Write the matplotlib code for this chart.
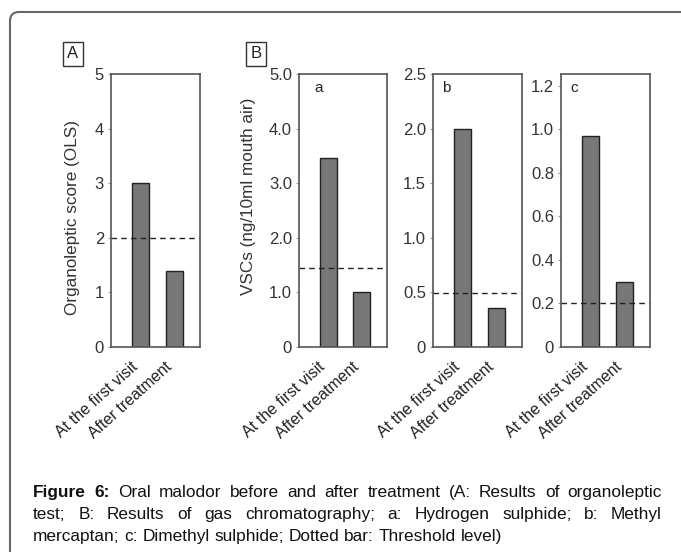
import matplotlib
matplotlib.use('Agg')

import matplotlib.pyplot as plt
from matplotlib.patches import FancyBboxPatch

plt.rcParams['font.family'] = ['Liberation Sans', 'DejaVu Sans']

groups = ["At the first visit", "After treatment"]

# panel A: organoleptic score
ols_values = [3.0, 1.4]
ols_threshold = 2.0

# panel B: gas chromatography, VSCs (ng/10ml mouth air)
sub_names = ["a", "b", "c"]
vsc_values = [[3.47, 1.0], [2.0, 0.36], [0.97, 0.30]]
vsc_thresholds = [1.45, 0.49, 0.20]
vsc_ylims = [5.0, 2.5, 1.255]
vsc_ticks = [[0, 1, 2, 3, 4, 5], [0, 0.5, 1.0, 1.5, 2.0, 2.5], [0, 0.2, 0.4, 0.6, 0.8, 1.0, 1.2]]
vsc_ticklabels = [["0", "1.0", "2.0", "3.0", "4.0", "5.0"],
                  ["0", "0.5", "1.0", "1.5", "2.0", "2.5"],
                  ["0", "0.2", "0.4", "0.6", "0.8", "1.0", "1.2"]]

caption_lines = [
    "Oral malodor before and after treatment (A: Results of organoleptic",
    "test; B: Results of gas chromatography; a: Hydrogen sulphide; b: Methyl",
    "mercaptan; c: Dimethyl sulphide; Dotted bar: Threshold level)",
]

W, H = 681, 552
fig = plt.figure(figsize=(W / 100, H / 100), dpi=100)


def px_rect(x0, x1, y0, y1):
    return [x0 / W, 1 - y1 / H, (x1 - x0) / W, (y1 - y0) / H]


def style_bar_axes(ax, values, threshold, ymax):
    xs = range(len(values))
    ax.bar(xs, values, width=0.5, color='#777777', edgecolor='#222222', linewidth=1.0)
    ax.axhline(threshold, color='#222222', linewidth=1.0, linestyle=(0, (4, 3)))
    ax.set_xlim(-0.87, 1.75)
    ax.set_ylim(0, ymax)
    ax.set_xticks(list(xs))
    ax.set_xticklabels(groups, rotation=42, ha='right', va='top', fontsize=11.5, color='#222222')
    ax.tick_params(axis='x', length=0, pad=9)
    ax.tick_params(axis='y', length=2, color='#999999', labelsize=12, labelcolor='#333333', pad=3)
    for sp in ax.spines.values():
        sp.set_color('#555555')
        sp.set_linewidth(1.2)


axA = fig.add_axes(px_rect(111, 200, 74, 347))
style_bar_axes(axA, ols_values, ols_threshold, 5)
axA.set_yticks(range(6))

positions = [(299, 387), (433, 522), (561, 650)]
for i, (x0, x1) in enumerate(positions):
    ax = fig.add_axes(px_rect(x0, x1, 74, 347))
    style_bar_axes(ax, vsc_values[i], vsc_thresholds[i], vsc_ylims[i])
    ax.set_yticks(vsc_ticks[i])
    ax.set_yticklabels(vsc_ticklabels[i])
    ax.text(0.1 if i else 0.17, 0.95, sub_names[i], transform=ax.transAxes,
            ha='left', va='center', fontsize=11, color='#222222')

# axis titles
fig.text(72 / W, 1 - 217 / H, "Organoleptic score (OLS)", rotation=90,
         ha='center', va='center', fontsize=12.3, color='#333333')
fig.text(248 / W, 1 - 196 / H, "VSCs (ng/10ml mouth air)", rotation=90,
         ha='center', va='center', fontsize=12.3, color='#333333')

# panel letters
for lbl, cx in [("A", 73), ("B", 256)]:
    fig.text(cx / W, 1 - 54 / H, lbl, ha='center', va='center', fontsize=12, color='#222222',
             bbox=dict(boxstyle='square,pad=0.25', fc='white', ec='#333333', lw=1.0))

# outer rounded frame (only top and left edges fall inside the image)
frame = FancyBboxPatch((10, -60), 720, H - 12 + 60, boxstyle='round,pad=0,rounding_size=9',
                       transform=None, fill=False, ec='#666666', lw=1.5, clip_on=False)
fig.add_artist(frame)

# caption, justified by hand
renderer = fig.canvas.get_renderer()
left_px, right_px = 33, 662
baselines = [497, 519, 541]
cap_size = 12.4


def text_width(s, bold=False):
    t = fig.text(0, 0, s, fontsize=cap_size, fontweight='bold' if bold else 'normal')
    w = t.get_window_extent(renderer).width
    t.remove()
    return w


space = text_width("a a") - text_width("aa")


def place_words(words, y_px, justify):
    texts = []
    for w, bold in words:
        texts.append(fig.text(0, 1 - y_px / H, w, ha='left', va='baseline', fontsize=cap_size,
                              fontweight='bold' if bold else 'normal', color='#111111'))
    widths = [t.get_window_extent(renderer).width for t in texts]
    gap = space
    if justify and len(texts) > 1:
        gap = (right_px - left_px - sum(widths)) / (len(texts) - 1)
    x = left_px
    for t, wd in zip(texts, widths):
        t.set_x(x / W)
        x += wd + gap


line1 = [("Figure", True), ("6:", True)] + [(w, False) for w in caption_lines[0].split()]
place_words(line1, baselines[0], True)
place_words([(w, False) for w in caption_lines[1].split()], baselines[1], True)
place_words([(w, False) for w in caption_lines[2].split()], baselines[2], False)

fig.savefig('out.png', dpi=100)
